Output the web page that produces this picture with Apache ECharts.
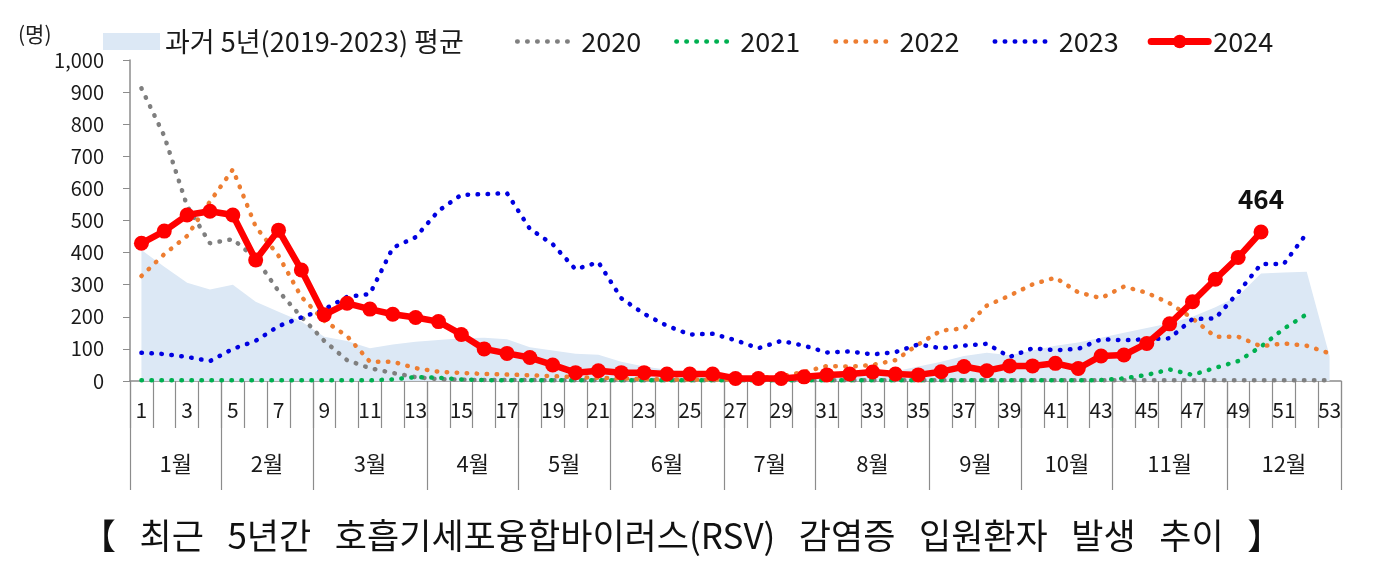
<!DOCTYPE html>
<html><head><meta charset="utf-8">
<script src="https://cdn.jsdelivr.net/npm/echarts@6/dist/echarts.min.js"></script>
<style>html,body{margin:0;padding:0;background:#fff;}#c{width:1377px;height:580px;}</style>
</head><body><div id="c"></div>
<script>
// ---- data ----
const weeks = ['1','2','3','4','5','6','7','8','9','10','11','12','13','14','15','16','17','18','19','20',
  '21','22','23','24','25','26','27','28','29','30','31','32','33','34','35','36','37','38','39','40',
  '41','42','43','44','45','46','47','48','49','50','51','52','53'];
const months = ['1월','2월','3월','4월','5월','6월','7월','8월','9월','10월','11월','12월'];
const weeksPerMonth = [4,4,5,4,4,5,4,5,4,4,5,5];
const yTicks = [0,100,200,300,400,500,600,700,800,900,1000];

const avg5 = [408,356,306,285,300,247,216,185,138,125,102,114,122,128,133,135,130,105,95,85,
  82,60,45,35,28,22,18,15,14,14,15,16,20,30,45,60,78,88,80,95,
  110,120,135,150,165,180,200,230,265,335,338,340,78];
const y2020 = [912,763,545,429,442,382,280,200,125,65,40,25,12,6,4,3,3,3,2,2,
  2,2,2,2,2,2,2,2,2,2,2,2,2,2,2,2,2,2,2,2,
  2,2,2,2,2,2,2,2,2,2,2,2,2];
const y2021 = [2,2,2,2,2,2,2,2,2,2,2,5,12,10,5,3,2,2,2,2,
  2,2,2,2,2,2,2,2,2,2,2,2,2,2,2,2,2,2,2,2,
  2,2,3,8,19,36,19,41,62,107,163,208];
const y2022 = [327,395,452,559,659,481,390,262,188,140,60,60,40,29,25,22,20,18,15,12,
  10,8,6,5,5,5,5,10,15,28,47,45,50,65,114,157,164,235,266,301,
  322,276,258,294,275,242,195,138,138,108,117,110,86];
const y2023 = [88,84,75,62,100,125,171,198,223,262,271,415,448,530,580,582,585,474,426,348,
  370,258,209,172,145,147,127,102,125,110,89,92,83,90,114,102,110,116,75,102,
  96,100,130,127,130,133,193,195,276,364,365,460];
const y2024 = [429,467,517,529,517,377,470,346,206,242,224,208,198,185,145,100,86,73,50,26,
  32,26,26,22,22,22,8,8,8,13,19,22,28,22,19,29,45,32,47,47,
  55,39,78,81,117,178,247,317,385,464];

const names = ['과거 5년(2019-2023) 평균','2020','2021','2022','2023','2024'];
const titleText = '【   최근   5년간   호흡기세포융합바이러스(RSV)   감염증   입원환자   발생   추이   】';

// month boundaries / centres on a 0..53 value scale
const bounds = [0];
weeksPerMonth.forEach(n => bounds.push(bounds[bounds.length-1] + n));
const centres = weeksPerMonth.map((n,i) => bounds[i] + n/2);

const FONT = '"Noto Sans CJK KR", "Noto Sans", sans-serif';
const AX = '#8c8c8c';
const DASH = [0.5, 9.5];
const dotted = (color) => ({ color: color, width: 4.5, type: DASH, cap: 'round' });
const legendDotted = (name, color) => ({
  name: name,
  itemStyle: { color: 'rgba(0,0,0,0)', opacity: 0, borderWidth: 0 },
  lineStyle: { color: color, width: 4.5, type: DASH, cap: 'round', dashOffset: -4 },
  textStyle: { padding: [0, 0, 0, 6] }
});

const chart = echarts.init(document.getElementById('c'), null, {renderer: 'canvas'});
const last = y2024.length - 1;
chart.setOption({
  animation: false,
  backgroundColor: '#fff',
  textStyle: { fontFamily: FONT },
  title: [
    { text: titleText, left: 76, top: 513,
      textStyle: { fontSize: 35, fontWeight: 'normal', color: '#111', fontFamily: FONT } },
    { text: '(명)', left: 13, top: 19,
      textStyle: { fontSize: 21, fontWeight: 'normal', color: '#222', fontFamily: FONT } }
  ],
  legend: {
    left: 103, top: 28, padding: 0, itemWidth: 57, itemHeight: 17, itemGap: 29,
    textStyle: { fontSize: 27, color: '#1a1a1a', fontFamily: FONT },
    formatter: (n) => n === names[0] ? n + '   ' : n,
    data: [
      { name: names[0], icon: 'rect' },
      legendDotted(names[1], '#7f7f7f'),
      legendDotted(names[2], '#00B050'),
      legendDotted(names[3], '#ED7D31'),
      legendDotted(names[4], '#0000E0'),
      { name: names[5], lineStyle: { color: '#FF0000', width: 7, cap: 'round' } }
    ]
  },
  grid: { left: 130, right: 36, top: 60, bottom: 199 },
  xAxis: [
    { type: 'category', data: weeks, boundaryGap: true, position: 'bottom',
      axisLine: { show: true, lineStyle: { color: AX, width: 1.5 } },
      axisTick: { show: true, interval: 0, length: 47, lineStyle: { color: AX, width: 1.2 } },
      axisLabel: { interval: 1, margin: 19, fontSize: 21, color: '#1a1a1a', fontFamily: FONT },
      splitLine: { show: false } },
    { type: 'value', min: 0, max: 53, position: 'bottom', offset: 0,
      axisLine: { show: false },
      axisTick: { show: true, customValues: bounds, length: 109, lineStyle: { color: AX, width: 1.2 } },
      axisLabel: { customValues: centres, margin: 72, fontSize: 22, color: '#1a1a1a', fontFamily: FONT,
        formatter: (v) => { const i = centres.indexOf(v); return i >= 0 ? months[i] : ''; } },
      splitLine: { show: false } }
  ],
  yAxis: {
    type: 'value', min: yTicks[0], max: yTicks[yTicks.length-1], interval: 100,
    axisLine: { show: true, lineStyle: { color: AX, width: 1.5 } },
    axisTick: { show: true, length: 7, lineStyle: { color: AX } },
    axisLabel: { margin: 26, fontSize: 20, color: '#1a1a1a', fontFamily: FONT,
      formatter: (v) => v.toLocaleString('en-US') },
    splitLine: { show: false }
  },
  series: [
    { name: names[0], type: 'line', data: avg5, symbol: 'none', z: 1,
      itemStyle: { color: '#DCE8F5' },
      lineStyle: { width: 0, color: '#DCE8F5' },
      areaStyle: { color: '#DCE8F5', opacity: 1 } },
    { name: names[1], type: 'line', data: y2020, symbol: 'none', z: 2,
      itemStyle: { color: '#7f7f7f' }, lineStyle: dotted('#7f7f7f') },
    { name: names[2], type: 'line', data: y2021, symbol: 'none', z: 3,
      itemStyle: { color: '#00B050' }, lineStyle: dotted('#00B050') },
    { name: names[3], type: 'line', data: y2022, symbol: 'none', z: 4,
      itemStyle: { color: '#ED7D31' }, lineStyle: dotted('#ED7D31') },
    { name: names[4], type: 'line', data: y2023, symbol: 'none', z: 5,
      itemStyle: { color: '#0000E0' }, lineStyle: dotted('#0000E0') },
    { name: names[5], type: 'line', z: 6,
      data: y2024.map((v, i) => i === last
        ? { value: v, label: { show: true, position: 'top', distance: 12, fontSize: 26,
            fontWeight: 'bold', color: '#111', fontFamily: FONT } }
        : v),
      symbol: 'circle', symbolSize: 15,
      itemStyle: { color: '#FF0000' },
      lineStyle: { color: '#FF0000', width: 6.5 } }
  ]
});
</script></body></html>
